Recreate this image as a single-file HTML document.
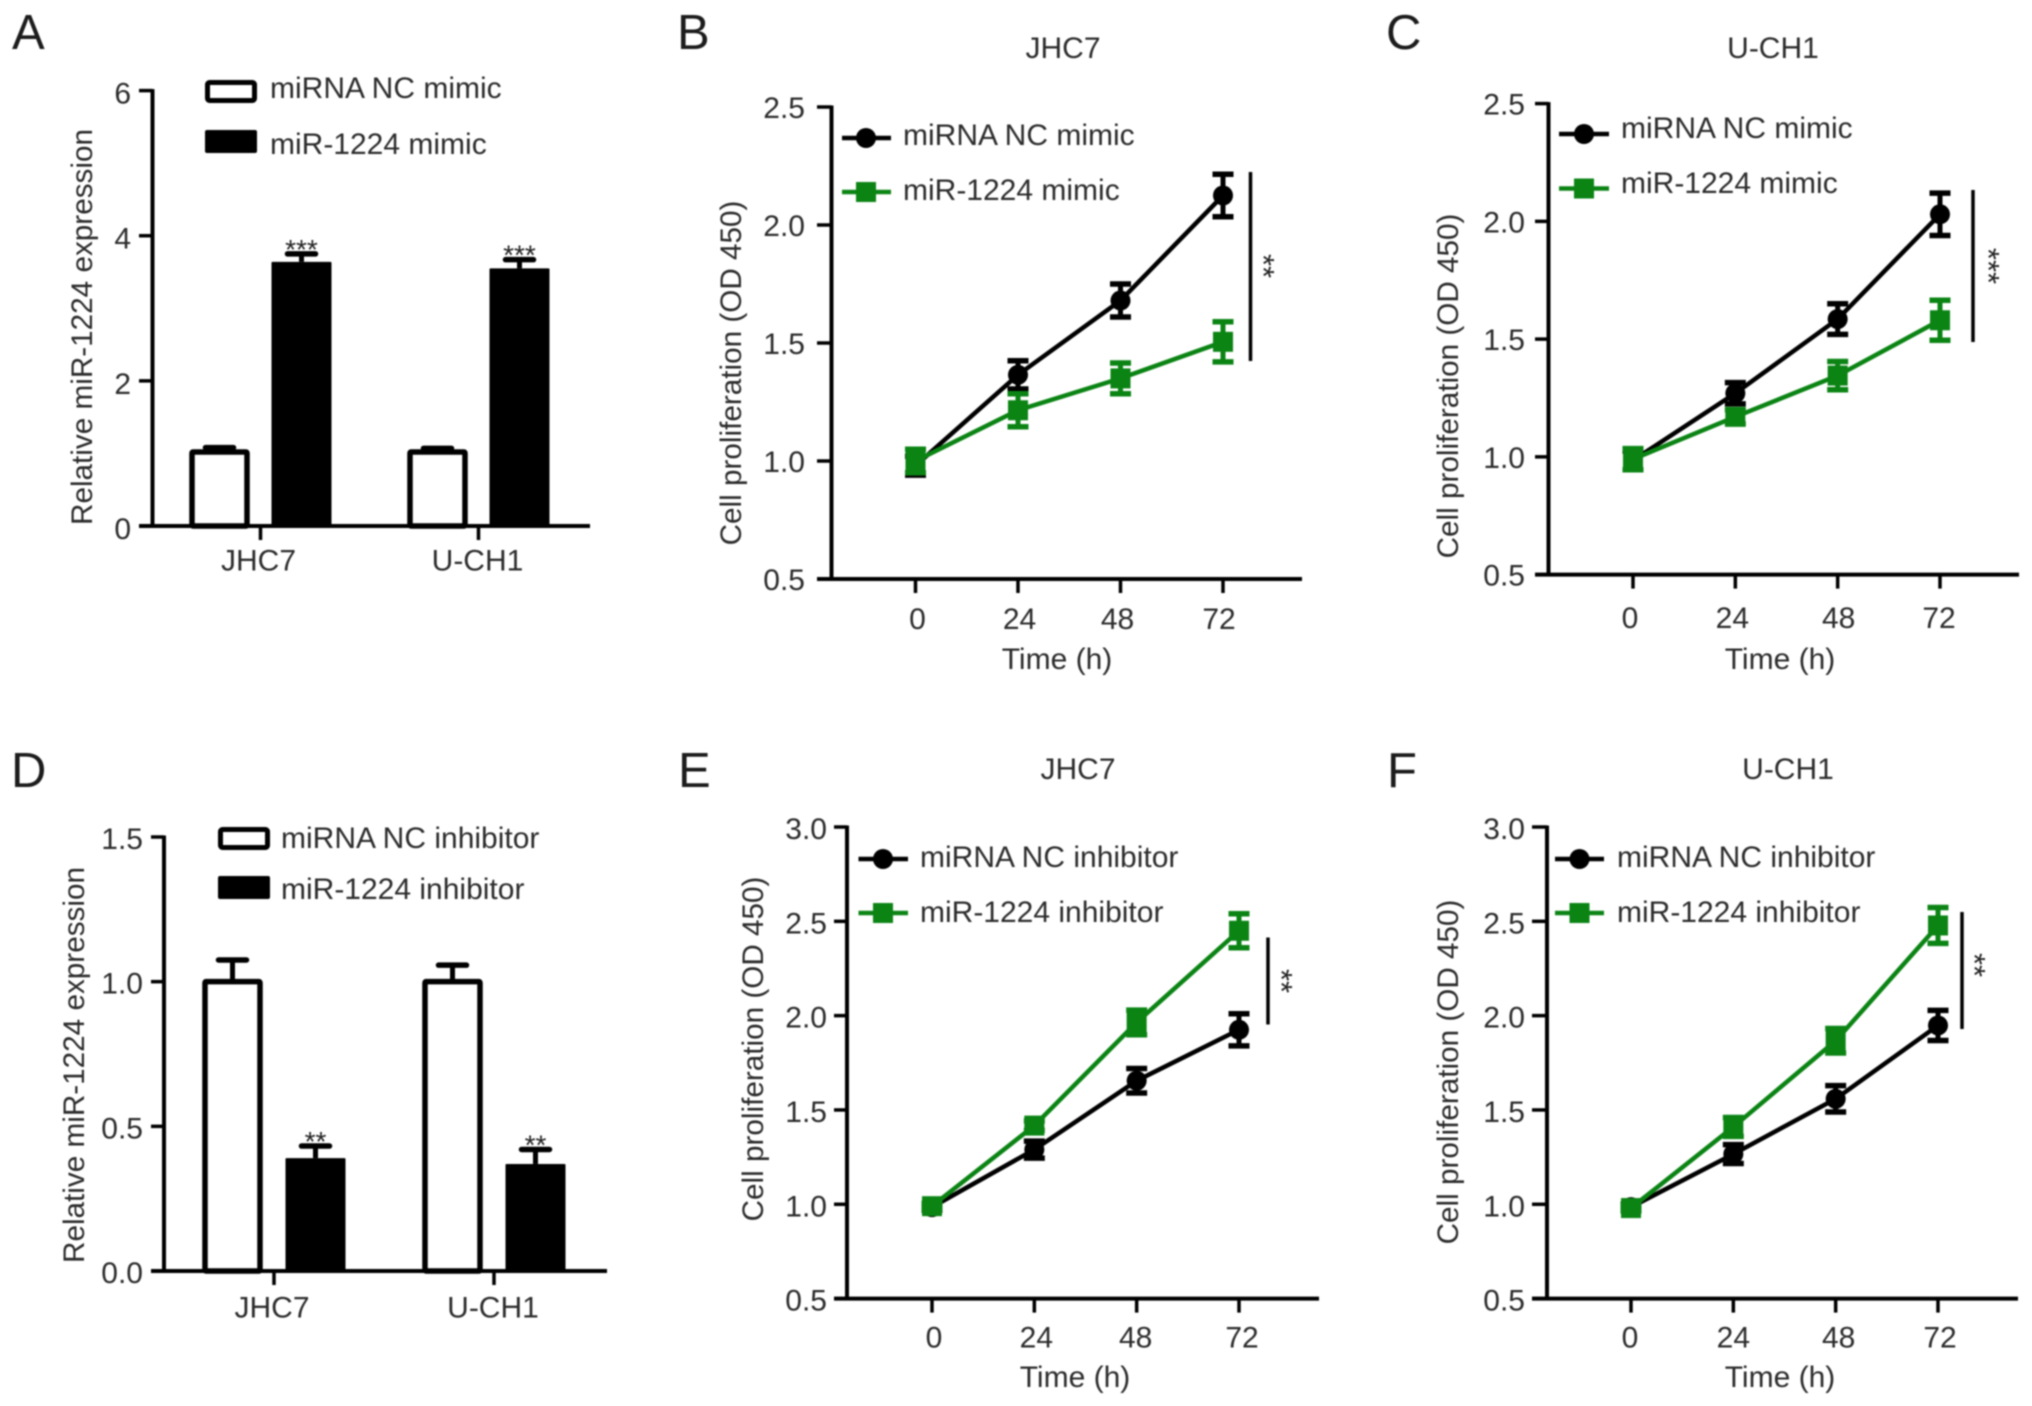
<!DOCTYPE html>
<html lang="en">
<head>
<meta charset="utf-8">
<title>miR-1224 expression and cell proliferation</title>
<style>
html,body{margin:0;padding:0;background:#fff;width:2032px;height:1406px;overflow:hidden}
svg{display:block;filter:blur(0.9px)}
text{font-family:"Liberation Sans",Arial,sans-serif;fill:#2c2c2c;font-size:30px}
.letter{font-size:49px;fill:#1c1c1c}
.stars{font-size:28px;fill:#222}
.stars-v{font-size:31px;fill:#222}
.ytitle{font-size:29.7px}
</style>
</head>
<body>
<svg id="figure" xmlns="http://www.w3.org/2000/svg" width="2032" height="1406" viewBox="0 0 2032 1406">
  <rect width="2032" height="1406" fill="#fff"/>

  <g id="panel-a">
    <text class="letter" x="12" y="49">A</text>
    <text class="ytitle" transform="translate(92 327) rotate(-90)" text-anchor="middle">Relative miR-1224 expression</text>
    <rect x="207.5" y="82.5" width="47" height="18" rx="2" fill="#fff" stroke="#000" stroke-width="5"/>
    <rect x="205" y="130" width="52" height="23" rx="2" fill="#000"/>
    <text x="270" y="98">miRNA NC mimic</text>
    <text x="270" y="154">miR-1224 mimic</text>
  </g>

  <g id="panel-b">
    <text class="letter" x="677" y="49">B</text>
    <text x="1063" y="58" text-anchor="middle">JHC7</text>
    <text class="ytitle" transform="translate(741 373) rotate(-90)" text-anchor="middle">Cell proliferation (OD 450)</text>
    <text x="1057" y="669" text-anchor="middle">Time (h)</text>
    <line x1="842" x2="891" y1="138" y2="138" stroke="#000" stroke-width="4.5"/>
    <circle cx="866" cy="138" r="10" fill="#000"/>
    <line x1="842" x2="891" y1="192" y2="192" stroke="#0b8414" stroke-width="4.5"/>
    <rect x="856" y="182" width="20" height="20" fill="#0b8414"/>
    <text x="903" y="145">miRNA NC mimic</text>
    <text x="903" y="200">miR-1224 mimic</text>
    <line x1="1250.5" x2="1250.5" y1="172" y2="361" stroke="#000" stroke-width="3.5"/>
    <text class="stars-v" transform="translate(1253 266) rotate(90)" text-anchor="middle">**</text>
  </g>

  <g id="panel-c">
    <text class="letter" x="1386" y="49">C</text>
    <text x="1773" y="58" text-anchor="middle">U-CH1</text>
    <text class="ytitle" transform="translate(1458 386) rotate(-90)" text-anchor="middle">Cell proliferation (OD 450)</text>
    <text x="1780" y="669" text-anchor="middle">Time (h)</text>
    <line x1="1559" x2="1609" y1="134" y2="134" stroke="#000" stroke-width="4.5"/>
    <circle cx="1584" cy="134" r="10" fill="#000"/>
    <line x1="1559" x2="1609" y1="188.5" y2="188.5" stroke="#0b8414" stroke-width="4.5"/>
    <rect x="1574" y="178.5" width="20" height="20" fill="#0b8414"/>
    <text x="1621" y="138">miRNA NC mimic</text>
    <text x="1621" y="193">miR-1224 mimic</text>
    <line x1="1973" x2="1973" y1="190" y2="342" stroke="#000" stroke-width="3.5"/>
    <text class="stars-v" transform="translate(1978 266) rotate(90)" text-anchor="middle">***</text>
  </g>

  <g id="panel-d">
    <text class="letter" x="11" y="787">D</text>
    <text class="ytitle" transform="translate(84 1065) rotate(-90)" text-anchor="middle">Relative miR-1224 expression</text>
    <rect x="220.5" y="829.5" width="47" height="18" rx="2" fill="#fff" stroke="#000" stroke-width="5"/>
    <rect x="218" y="876" width="52" height="23" rx="2" fill="#000"/>
    <text x="281" y="848">miRNA NC inhibitor</text>
    <text x="281" y="899">miR-1224 inhibitor</text>
  </g>

  <g id="panel-e">
    <text class="letter" x="678" y="787">E</text>
    <text x="1078" y="779" text-anchor="middle">JHC7</text>
    <text class="ytitle" transform="translate(763 1049) rotate(-90)" text-anchor="middle">Cell proliferation (OD 450)</text>
    <text x="1075" y="1387" text-anchor="middle">Time (h)</text>
    <line x1="858.5" x2="908" y1="859" y2="859" stroke="#000" stroke-width="4.5"/>
    <circle cx="883" cy="859" r="10" fill="#000"/>
    <line x1="858.5" x2="908" y1="913" y2="913" stroke="#0b8414" stroke-width="4.5"/>
    <rect x="873" y="903" width="20" height="20" fill="#0b8414"/>
    <text x="920" y="867">miRNA NC inhibitor</text>
    <text x="920" y="922">miR-1224 inhibitor</text>
    <line x1="1268" x2="1268" y1="937.5" y2="1024.5" stroke="#000" stroke-width="3.5"/>
    <text class="stars-v" transform="translate(1271 981) rotate(90)" text-anchor="middle">**</text>
  </g>

  <g id="panel-f">
    <text class="letter" x="1387" y="787">F</text>
    <text x="1788" y="779" text-anchor="middle">U-CH1</text>
    <text class="ytitle" transform="translate(1458 1072) rotate(-90)" text-anchor="middle">Cell proliferation (OD 450)</text>
    <text x="1780" y="1387" text-anchor="middle">Time (h)</text>
    <line x1="1555" x2="1604" y1="859" y2="859" stroke="#000" stroke-width="4.5"/>
    <circle cx="1579.5" cy="859" r="10" fill="#000"/>
    <line x1="1555" x2="1604" y1="913" y2="913" stroke="#0b8414" stroke-width="4.5"/>
    <rect x="1569.5" y="903" width="20" height="20" fill="#0b8414"/>
    <text x="1617" y="867">miRNA NC inhibitor</text>
    <text x="1617" y="922">miR-1224 inhibitor</text>
    <line x1="1962" x2="1962" y1="912" y2="1029" stroke="#000" stroke-width="3.5"/>
    <text class="stars-v" transform="translate(1964 965) rotate(90)" text-anchor="middle">**</text>
  </g>
</svg>

<script>
// Shared categories and tick labels
const cellLines = ['JHC7', 'U-CH1'];
const timePoints = [0, 24, 48, 72];
const ticksA = [0, 2, 4, 6];
const ticksD = ['0.0', '0.5', '1.0', '1.5'];
const ticksBC = ['0.5', '1.0', '1.5', '2.0', '2.5'];
const ticksEF = ['0.5', '1.0', '1.5', '2.0', '2.5', '3.0'];

// Panel A values
const aControl = [1.02, 1.02];
const aControlErr = [0.06, 0.05];
const aTreated = [3.64, 3.55];
const aTreatedErr = [0.11, 0.12];
const aStars = ['***', '***'];

// Panel D values
const dControl = [1.0, 1.0];
const dControlErr = [0.075, 0.057];
const dTreated = [0.39, 0.37];
const dTreatedErr = [0.042, 0.05];
const dStars = ['**', '**'];

// Panel B values
const bBlack = [0.98, 1.365, 1.68, 2.125];
const bBlackErr = [0.04, 0.06, 0.07, 0.09];
const bGreen = [1.0, 1.215, 1.35, 1.505];
const bGreenErr = [0.05, 0.07, 0.065, 0.085];

// Panel C values
const cBlack = [0.985, 1.27, 1.585, 2.03];
const cBlackErr = [0.04, 0.045, 0.065, 0.09];
const cGreen = [0.99, 1.17, 1.345, 1.58];
const cGreenErr = [0.045, 0.03, 0.06, 0.085];

// Panel E values
const eBlack = [0.985, 1.29, 1.655, 1.925];
const eBlackErr = [0.015, 0.045, 0.065, 0.085];
const eGreen = [0.99, 1.417, 1.964, 2.45];
const eGreenErr = [0.015, 0.025, 0.065, 0.09];

// Panel F values
const fBlack = [0.985, 1.266, 1.559, 1.948];
const fBlackErr = [0.015, 0.05, 0.07, 0.08];
const fGreen = [0.98, 1.41, 1.867, 2.478];
const fGreenErr = [0.015, 0.05, 0.065, 0.095];

const NS = 'http://www.w3.org/2000/svg';
const GREEN = '#0b8414';

function make(parent, tag, attrs, content) {
  const el = document.createElementNS(NS, tag);
  for (const k in attrs) el.setAttribute(k, attrs[k]);
  if (content !== undefined) el.textContent = content;
  parent.appendChild(el);
  return el;
}

function scaleLinear(d0, d1, r0, r1) {
  return function (v) { return r0 + (v - d0) * (r1 - r0) / (d1 - d0); };
}

function drawYAxis(g, axisX, tickX, y, labels, labelRight, offset) {
  const lo = Number(labels[0]);
  const hi = Number(labels[labels.length - 1]);
  const spine = make(g, 'line', {x1: axisX, x2: axisX, y1: y(hi) - 1.5, y2: y(lo) + 1.5, stroke: '#000', 'stroke-width': 4});
  
  
  labels.forEach(function (lab) {
    const v = Number(lab);
    const tick = make(g, 'line', {x1: tickX, x2: axisX, y1: y(v), y2: y(v), stroke: '#000', 'stroke-width': 3.5});
    
    
    const text = make(g, 'text', {x: labelRight, y: y(v) + offset, 'text-anchor': 'end'}, String(lab));
    
    
  });
}

function drawXBaseline(g, x1, x2, yPos) {
  const base = make(g, 'line', {x1: x1, x2: x2, y1: yPos, y2: yPos, stroke: '#000', 'stroke-width': 4});
  
  
}

function drawXTick(g, x, yPos, len, label, labelX, labelY) {
  const tick = make(g, 'line', {x1: x, x2: x, y1: yPos, y2: yPos + len, stroke: '#000', 'stroke-width': 3.5});
  
  
  const text = make(g, 'text', {x: labelX, y: labelY, 'text-anchor': 'middle'}, String(label));
  
  
}

function drawBarChart(id, f, labels, control, controlErr, treated, treatedErr, stars) {
  const g = document.getElementById(id);
  const y = scaleLinear(f.yMin, f.yMax, f.bottom, f.top);
  const x = scaleLinear(0, 1, f.tick0, f.tick1);
  const bottom = y(f.yMin);
  drawYAxis(g, f.axisX, f.tickX, y, labels, f.labelRight, f.offset);
  cellLines.forEach(function (name, i) {
    const cx = x(i);
    const c1 = cx - f.gap;
    const c2 = cx + f.gap;
    [[c1, controlErr[i] + control[i], control[i]], [c2, treatedErr[i] + treated[i], treated[i]]].forEach(function (e) {
      const stem = make(g, 'line', {x1: e[0], x2: e[0], y1: y(e[1]), y2: y(e[2]), stroke: '#000', 'stroke-width': 5});
      
      
      const cap = make(g, 'line', {x1: e[0] - 14, x2: e[0] + 14, y1: y(e[1]), y2: y(e[1]), stroke: '#000', 'stroke-width': 5.5, 'stroke-linecap': 'round'});
      
      
    });
    const whiteBar = make(g, 'rect', {x: c1 - 27.5, y: y(control[i]), width: 55, height: bottom - y(control[i]), fill: '#fff', stroke: '#000', 'stroke-width': 5.5, rx: 1});
    
    
    const blackBar = make(g, 'rect', {x: c2 - 30, y: y(treated[i]), width: 60, height: bottom - y(treated[i]), fill: '#000', rx: 1});
    
    
    const star = make(g, 'text', {x: c2, y: y(treated[i] + treatedErr[i]) + 5, 'text-anchor': 'middle', 'class': 'stars'}, stars[i]);
    
    
    drawXTick(g, cx, bottom, 14, name, cx - 2 + (i === 1 ? 1 : 0), f.labelY);
  });
  drawXBaseline(g, f.tickX, f.right, bottom);
}

function drawSeries(g, x, y, values, errs, color, square) {
  const points = values.map(function (v, i) { return x(timePoints[i]) + ',' + y(v); }).join(' ');
  const path = make(g, 'polyline', {points: points, fill: 'none', stroke: color, 'stroke-width': 4.5});
  
  
  values.forEach(function (v, i) {
    const px = x(timePoints[i]);
    const py = y(v);
    const hi = y(v + errs[i]);
    const lo = y(v - errs[i]);
    const stem = make(g, 'line', {x1: px, x2: px, y1: hi, y2: lo, stroke: color, 'stroke-width': 5});
    
    
    const capTop = make(g, 'line', {x1: px - 10.5, x2: px + 10.5, y1: hi, y2: hi, stroke: color, 'stroke-width': 5.5});
    
    
    const capBottom = make(g, 'line', {x1: px - 10.5, x2: px + 10.5, y1: lo, y2: lo, stroke: color, 'stroke-width': 5.5});
    
    
    if (square) {
      const mark = make(g, 'rect', {x: px - 10, y: py - 10, width: 20, height: 20, fill: color});
      
      
    } else {
      const mark = make(g, 'circle', {cx: px, cy: py, r: 10, fill: color});
      
      
    }
  });
}

function drawLineChart(id, f, labels, black, blackErr, green, greenErr) {
  const g = document.getElementById(id);
  const lo = Number(labels[0]);
  const hi = Number(labels[labels.length - 1]);
  const y = scaleLinear(lo, hi, f.bottom, f.top);
  const x = scaleLinear(0, 72, f.x0, f.x72);
  drawYAxis(g, f.axisX, f.tickX, y, labels, f.labelRight, f.offset);
  drawXBaseline(g, f.tickX, f.right, f.bottom);
  timePoints.forEach(function (t, i) {
    drawXTick(g, x(t), f.bottom, 14, t, x(t) + f.labelNudge[i], f.labelY);
  });
  drawSeries(g, x, y, black, blackErr, '#000', false);
  drawSeries(g, x, y, green, greenErr, GREEN, true);
}

drawBarChart('panel-a', {yMin: 0, yMax: 6, top: 90.6, bottom: 526, axisX: 152.5, tickX: 139, right: 590, labelRight: 131, tick0: 260.5, tick1: 478.5, gap: 41, labelY: 570.5, offset: 13}, ticksA, aControl, aControlErr, aTreated, aTreatedErr, aStars);
drawBarChart('panel-d', {yMin: 0, yMax: 1.5, top: 837, bottom: 1271, axisX: 164, tickX: 151, right: 607, labelRight: 143, tick0: 274, tick1: 494, gap: 41.5, labelY: 1317.5, offset: 12}, ticksD, dControl, dControlErr, dTreated, dTreatedErr, dStars);
drawLineChart('panel-b', {top: 107, bottom: 579, axisX: 831.5, tickX: 817, right: 1302, labelRight: 805, x0: 915.5, x72: 1223, labelY: 629, offset: 11, labelNudge: [2, 1.5, -3, -4]}, ticksBC, bBlack, bBlackErr, bGreen, bGreenErr);
drawLineChart('panel-c', {top: 103.6, bottom: 574.6, axisX: 1548.5, tickX: 1535, right: 2019, labelRight: 1525, x0: 1633, x72: 1940, labelY: 628, offset: 11, labelNudge: [-3, -3, 1, -1]}, ticksBC, cBlack, cBlackErr, cGreen, cGreenErr);
drawLineChart('panel-e', {top: 827, bottom: 1298.6, axisX: 847, tickX: 834, right: 1319, labelRight: 827, x0: 932, x72: 1239, labelY: 1347.5, offset: 12, labelNudge: [2, 2, -1, 3]}, ticksEF, eBlack, eBlackErr, eGreen, eGreenErr);
drawLineChart('panel-f', {top: 827, bottom: 1298.6, axisX: 1547, tickX: 1532, right: 2018, labelRight: 1525, x0: 1631, x72: 1938, labelY: 1347.5, offset: 12, labelNudge: [-1, 0, 3, 2]}, ticksEF, fBlack, fBlackErr, fGreen, fGreenErr);
</script>
</body>
</html>
